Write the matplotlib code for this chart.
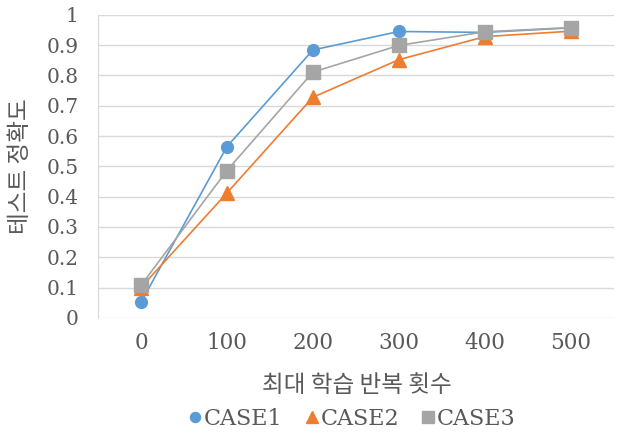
import matplotlib
matplotlib.use('Agg')
import matplotlib.pyplot as plt

# x categories (max training iterations)
iterations = ['0', '100', '200', '300', '400', '500']

# test accuracy per case
case1 = [0.051, 0.565, 0.884, 0.945, 0.942, 0.957]
case2 = [0.100, 0.412, 0.728, 0.852, 0.928, 0.946]
case3 = [0.107, 0.486, 0.811, 0.899, 0.944, 0.958]

series_names = ['CASE1', 'CASE2', 'CASE3']

plt.rcParams['font.family'] = ['DejaVu Serif', 'Noto Sans CJK KR']
text_color = '#595959'

fig = plt.figure(figsize=(6.2, 4.36), dpi=100)
ax = fig.add_axes([0.158, 0.271, 0.832, 0.695])

x = range(len(iterations))
ax.plot(x, case1, color='#5B9BD5', marker='o', markersize=8.5, linewidth=1.2,
        label=series_names[0], zorder=3)
ax.plot(x, case2, color='#ED7D31', marker='^', markersize=10, linewidth=1.2,
        label=series_names[1], zorder=3)
ax.plot(x, case3, color='#A5A5A5', marker='s', markersize=10, linewidth=1.2,
        label=series_names[2], zorder=3)

ax.set_xlim(-0.5, len(iterations) - 0.5)
ax.set_ylim(0, 1)
ax.set_xticks(list(x))
ax.set_xticklabels(iterations)
yticks = [i / 10 for i in range(11)]
ax.set_yticks(yticks)
ax.set_yticklabels(['0', '0.1', '0.2', '0.3', '0.4', '0.5', '0.6', '0.7', '0.8', '0.9', '1'])

ax.grid(axis='y', color='#D9D9D9', linewidth=1)
ax.set_axisbelow(True)
for side in ['top', 'right', 'bottom']:
    ax.spines[side].set_visible(False)
ax.spines['left'].set_color('#D9D9D9')
ax.tick_params(length=0, colors=text_color)
ax.tick_params(axis='x', pad=10, labelsize=15.5)
ax.tick_params(axis='y', pad=14, labelsize=14.5)

xl = ax.set_xlabel('최대 학습 반복 횟수', fontsize=17, color=text_color,
                   family=['Noto Sans CJK KR'], fontweight='light')
xl.set_verticalalignment('center')
ax.xaxis.set_label_coords(0.502, -0.224)
yl = ax.set_ylabel('테스트 정확도', fontsize=17, color=text_color,
                   family=['Noto Sans CJK KR'], fontweight='light')
yl.set_verticalalignment('center')
ax.yaxis.set_label_coords(-0.15, 0.5)

leg = fig.legend(loc='center', bbox_to_anchor=(0.568, 0.04), ncol=3, frameon=False,
                 fontsize=16, handlelength=0.6, handletextpad=0.1, columnspacing=1.0,
                 markerscale=0.85)
for t in leg.get_texts():
    t.set_color(text_color)
for h in leg.legend_handles:
    h.set_linestyle('None')

fig.savefig('out.png', dpi=100)
